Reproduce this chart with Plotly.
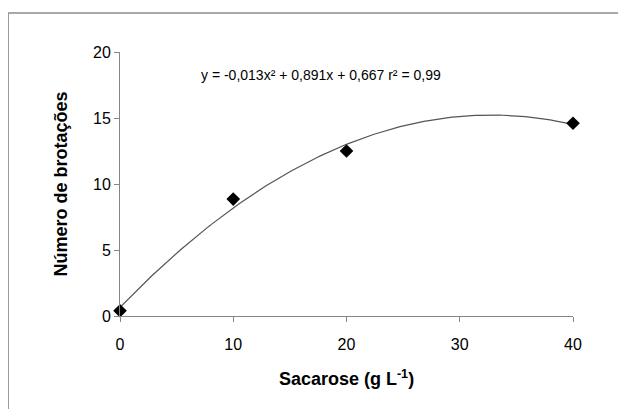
import numpy as np
import plotly.graph_objects as go

sacarose = [0, 10, 20, 40]
brotacoes = [0.4, 8.86, 12.5, 14.6]
x_ticks = [0, 10, 20, 30, 40]
y_ticks = [0, 5, 10, 15, 20]
equation_text = "y = -0,013x² + 0,891x + 0,667 r² = 0,99"

coef = np.polyfit(sacarose, brotacoes, 2)
xf = np.linspace(0, 40, 200)
yf = np.polyval(coef, xf)

FONT = "Liberation Sans, Arial, sans-serif"
AX = "#868686"

fig = go.Figure()
fig.add_trace(go.Scatter(x=xf, y=yf, mode="lines",
                         line=dict(color="#555555", width=1.2),
                         hoverinfo="skip", showlegend=False))
fig.add_trace(go.Scatter(x=sacarose, y=brotacoes, mode="markers",
                         marker=dict(symbol="diamond", size=10.5, color="black"),
                         cliponaxis=False, showlegend=False))

fig.update_layout(
    width=618, height=401,
    margin=dict(l=112, r=53, t=44, b=93),
    paper_bgcolor="white", plot_bgcolor="white",
    font=dict(family=FONT, color="black"),
    xaxis=dict(range=[0, 40], tickvals=x_ticks, showgrid=False, zeroline=False,
               showline=True, linecolor=AX, linewidth=1,
               ticks="outside", ticklen=5, tickcolor=AX,
               tickfont=dict(size=16, family=FONT), ticklabelstandoff=9,
               title=dict(text="<b>Sacarose (g L<sup>-1</sup>)</b>",
                          font=dict(size=18, family=FONT), standoff=20)),
    yaxis=dict(range=[0, 20], tickvals=y_ticks, showgrid=False, zeroline=False,
               showline=True, linecolor=AX, linewidth=1,
               ticks="outside", ticklen=5, tickcolor=AX,
               tickfont=dict(size=16, family=FONT), ticklabelstandoff=0,
               title=dict(text="<b>Número de brotações</b>",
                          font=dict(size=18, family=FONT), standoff=20)),
    annotations=[dict(x=17.75, y=18.26, xref="x", yref="y", text=equation_text,
                      showarrow=False, font=dict(size=14, family=FONT, color="black"))],
    shapes=[
        dict(type="line", xref="paper", yref="paper", x0=-0.247, x1=1.2,
             y0=1.148, y1=1.148, line=dict(color="#8c8c8c", width=1.5)),
        dict(type="line", xref="paper", yref="paper", x0=-0.247, x1=-0.247,
             y0=1.148, y1=-0.4, line=dict(color="#8c8c8c", width=1.5)),
    ],
)

fig.write_html("out.html")
